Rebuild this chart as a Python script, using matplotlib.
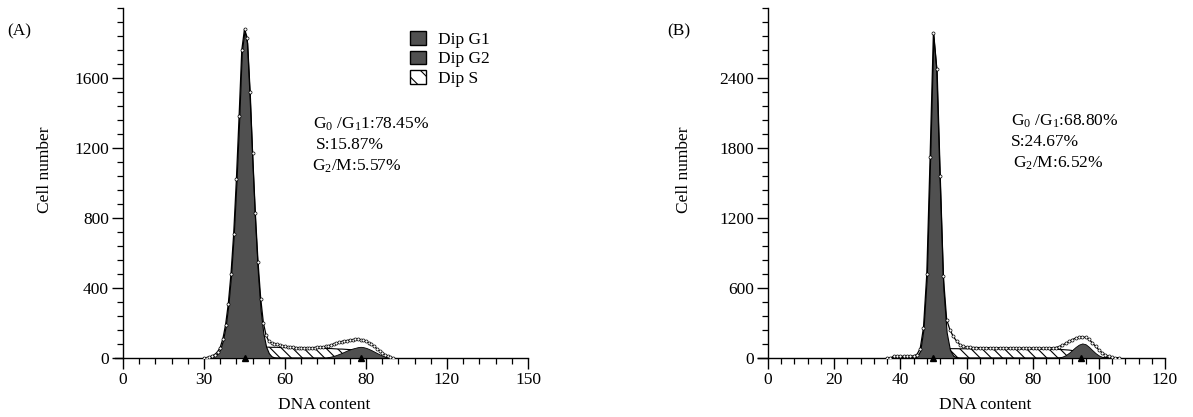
import numpy as np
import matplotlib
matplotlib.use("Agg")
import matplotlib.pyplot as plt
from matplotlib.patches import Patch
from matplotlib.ticker import MultipleLocator, FixedLocator

plt.rcParams['font.family'] = ['Liberation Serif', 'DejaVu Serif']
plt.rcParams['mathtext.fontset'] = 'custom'
plt.rcParams['mathtext.rm'] = 'Liberation Serif'
plt.rcParams['mathtext.default'] = 'regular'
plt.rcParams['hatch.linewidth'] = 0.8

# ---------------- Panel A data ----------------
a_x = list(range(30, 101))
a_g1 = [0, 0, 0, 5, 12, 25, 50, 100, 180, 300, 470, 700, 1000, 1350, 1750, 1870, 1800, 1500,
        1100, 760, 480, 270, 140, 65, 28, 10, 3] + [0] * 44
a_s = [0] * 11 + [5, 12, 22, 32, 40, 47, 52, 56, 59, 61, 62, 62, 62, 62, 61, 61, 61, 60, 60, 60,
       59, 59, 59, 58, 58, 58, 57, 57, 57, 56, 56, 56, 55, 55, 55, 54, 54, 53, 52, 51, 51, 50,
       49, 48, 46, 43, 39, 34, 28, 22, 16, 11, 7, 4, 2, 1] + [0] * 4
a_g2 = [0] * 46 + [5, 8, 12, 17, 23, 29, 36, 43, 49, 54, 58, 62, 64, 62, 58, 52, 45, 37, 29, 21,
       14, 8, 4, 2, 0]
a_total = [0, 2, 6, 12, 20, 35, 60, 110, 190, 310, 480, 710, 1020, 1380, 1760, 1880, 1830, 1520,
           1170, 830, 550, 340, 200, 130, 95, 85, 82, 78, 74, 70, 66, 64, 62, 61, 60, 59, 60, 58,
           59, 58, 59, 60, 61, 62, 64, 66, 70, 74, 80, 85, 90, 94, 98, 100, 103, 105, 106, 107,
           105, 102, 96, 88, 78, 66, 54, 42, 30, 20, 12, 6, 0]
a_marks = [45, 88]
a_xticks = [0, 30, 60, 90, 120, 150]
a_xticklabels = ["0", "30", "60", "80", "120", "150"]
a_yticks = [0, 400, 800, 1200, 1600]

# ---------------- Panel B data ----------------
b_x = list(range(36, 107))
b_g1 = [0] * 9 + [15, 60, 250, 700, 1700, 2770, 2450, 1500, 600, 220, 70, 20, 5] + [0] * 49
b_s = [0] * 11 + [10, 25, 45, 62, 74, 80, 80, 80, 80, 80, 80, 79, 79, 79, 79, 79, 78, 78, 78, 78,
       78, 78, 77, 77, 77, 77, 77, 76, 76, 76, 76, 76, 76, 75, 75, 75, 75, 75, 74, 74,
       74, 73, 72, 70, 68, 64, 58, 50, 42, 34, 26, 18, 11, 6, 2] + [0] * 5
b_g2 = [0] * 52 + [5, 12, 25, 45, 70, 95, 115, 125, 118, 96, 68, 42, 22, 10, 4, 1] + [0] * 3
b_total = [0, 0, 15, 15, 15, 15, 16, 16, 18, 30, 80, 260, 720, 1720, 2790, 2480, 1560, 700, 330,
           240, 185, 145, 115, 100, 94, 91, 90, 90, 89, 89, 89, 88, 88, 88, 88, 87, 87, 87, 87,
           87, 86, 86, 86, 86, 86, 86, 86, 86, 86, 87, 88, 90, 98, 110, 125, 142, 158, 170,
           178, 182, 176, 160, 132, 100, 70, 45, 26, 13, 5, 1, 0]
b_marks = [50, 94.5]
b_xticks = [0, 20, 40, 60, 80, 100, 120]
b_xticklabels = ["0", "20", "40", "60", "80", "100", "120"]
b_yticks = [0, 600, 1200, 1800, 2400]

W, H = 1193, 417
fig = plt.figure(figsize=(W / 100, H / 100), dpi=100)

DARK = '#505050'
FS = 12.5


def make_axes(x0, x_end, y_top, y_zero, xmin, xmax):
    ppu = (x_end - x0) / xmax
    left = x0 + xmin * ppu
    ax = fig.add_axes([left / W, 1 - y_zero / H, (x_end - left) / W, (y_zero - y_top) / H])
    return ax


def draw_panel(ax, x, g1, s, g2, total, marks, xmax, ymax, xticks, xticklabels, xminor,
               yticks, yminor):
    x = np.array(x)
    ax.fill_between(x, 0, s, facecolor='white', edgecolor='black', hatch='\\\\\\',
                    linewidth=0.8, zorder=2)
    ax.fill_between(x, 0, g2, facecolor=DARK, edgecolor='black', linewidth=0.6, zorder=3)
    ax.fill_between(x, 0, g1, facecolor=DARK, edgecolor='black', linewidth=0.8, zorder=3)
    ax.plot(x, total, color='black', lw=0.9, marker='o', ms=2.2, mfc='white', mec='black',
            mew=0.5, zorder=4)
    ax.plot(marks, [0] * len(marks), marker='^', ls='none', color='black', ms=5,
            clip_on=False, zorder=5)
    ax.set_xlim(-3, xmax)
    ax.set_ylim(0, ymax)
    for sp in ['top', 'right']:
        ax.spines[sp].set_visible(False)
    ax.spines['left'].set_position(('data', 0))
    ax.spines['left'].set_linewidth(1.0)
    ax.spines['bottom'].set_linewidth(1.0)
    ax.xaxis.set_major_locator(FixedLocator(xticks))
    ax.set_xticklabels(xticklabels)
    ax.xaxis.set_minor_locator(MultipleLocator(xminor))
    ax.yaxis.set_major_locator(FixedLocator(yticks))
    ax.yaxis.set_minor_locator(MultipleLocator(yminor))
    ax.tick_params(axis='both', which='major', direction='out', length=8, width=1.0,
                   labelsize=FS, pad=2)
    ax.tick_params(axis='both', which='minor', direction='out', length=4.5, width=0.9)
    ax.set_facecolor('none')


axA = make_axes(123, 528, 8, 358, -3, 150)
draw_panel(axA, a_x, a_g1, a_s, a_g2, a_total, a_marks, 150, 2000, a_xticks, a_xticklabels, 6,
           a_yticks, 80)
axB = make_axes(768, 1165, 8, 358, -3, 120)
draw_panel(axB, b_x, b_g1, b_s, b_g2, b_total, b_marks, 120, 3000, b_xticks, b_xticklabels, 4,
           b_yticks, 120)


def ftext(px, py, s, **kw):
    fig.text(px / W, 1 - py / H, s, fontsize=FS, **kw)


ftext(7, 31, "(A)", va='center', ha='left')
ftext(667, 31, "(B)", va='center', ha='left')
ftext(45, 170, "Cell number", rotation=90, va='center', ha='center')
ftext(684, 170, "Cell number", rotation=90, va='center', ha='center')
ftext(324, 405, "DNA content", va='center', ha='center')
ftext(985, 405, "DNA content", va='center', ha='center')

ftext(313, 124, r"G$_0$ /G$_1$1:78.45%", va='center', ha='left')
ftext(316, 145, "S:15.87%", va='center', ha='left')
ftext(312, 166, r"G$_2$/M:5.57%", va='center', ha='left')

ftext(1011, 121, r"G$_0$ /G$_1$:68.80%", va='center', ha='left')
ftext(1011, 142, "S:24.67%", va='center', ha='left')
ftext(1013, 163, r"G$_2$/M:6.52%", va='center', ha='left')

handles = [Patch(facecolor=DARK, edgecolor='black', label='Dip G1'),
           Patch(facecolor=DARK, edgecolor='black', label='Dip G2'),
           Patch(facecolor='white', edgecolor='black', hatch='\\\\', label='Dip S')]
fig.legend(handles=handles, loc='upper left', bbox_to_anchor=(410 / W, 1 - 31 / H),
           frameon=False, fontsize=FS, handlelength=0.9, handleheight=0.85,
           handletextpad=0.7, labelspacing=0.15, borderpad=0, borderaxespad=0)

fig.savefig("out.png", dpi=100)
